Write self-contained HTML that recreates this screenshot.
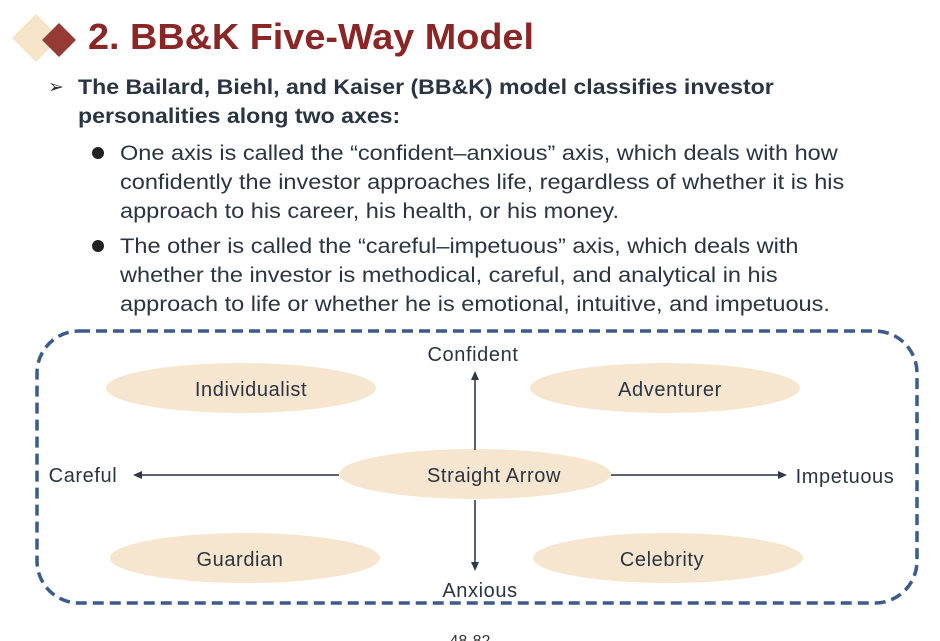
<!DOCTYPE html>
<html><head><meta charset="utf-8"><style>
body{margin:0;width:940px;height:641px;background:#fff;overflow:hidden;position:relative;font-family:"Liberation Sans","Noto Sans CJK SC",sans-serif;}
.t{position:absolute;white-space:nowrap;transform-origin:0 0;}
</style></head><body>
<svg width="940" height="641" style="position:absolute;left:0;top:0">
<rect x="19" y="21" width="34" height="34" fill="#f6e4c8" transform="rotate(45 36 38)"/>
<rect x="47" y="28" width="24" height="24" fill="#963a36" transform="rotate(45 59 40)"/>
<text x="48" y="93" font-size="19" fill="#333">➢</text>
<circle cx="98" cy="153" r="6" fill="#222"/>
<circle cx="98" cy="246" r="6" fill="#222"/>
<rect x="37" y="331" width="880" height="272" rx="42" fill="none" stroke="#3a5b8b" stroke-width="3.5" stroke-dasharray="11 6"/>
<g fill="#f7e6cf">
<ellipse cx="241" cy="388" rx="135" ry="25"/>
<ellipse cx="245" cy="558" rx="135" ry="25"/>
<ellipse cx="665" cy="388" rx="135" ry="25"/>
<ellipse cx="668" cy="558" rx="135" ry="25"/>
<ellipse cx="475" cy="474" rx="136" ry="25"/>
</g>
<g stroke="#5a6470" stroke-width="2">
<line x1="475" y1="450" x2="475" y2="378"/>
<line x1="475" y1="500" x2="475" y2="566"/>
<line x1="339" y1="475" x2="140" y2="475"/>
<line x1="611" y1="475" x2="780" y2="475"/>
</g>
<g fill="#2d3a4a">
<polygon points="475,371 471,380 479,380"/>
<polygon points="475,571 471,562 479,562"/>
<polygon points="133,475 142,471 142,479"/>
<polygon points="787,475 778,471 778,479"/>
</g>
<g font-size="20" fill="#2b3442" font-family="Liberation Sans, sans-serif" text-anchor="middle" letter-spacing="0.6">
<text x="251" y="396">Individualist</text>
<text x="240" y="566">Guardian</text>
<text x="670" y="396">Adventurer</text>
<text x="662" y="566">Celebrity</text>
<text x="494" y="482">Straight Arrow</text>
<text x="473" y="361">Confident</text>
<text x="480" y="597">Anxious</text>
<text x="83" y="482">Careful</text>
<text x="845" y="483">Impetuous</text>
</g>
<text x="470" y="646" font-size="16" fill="#333" text-anchor="middle">48-82</text>
</svg>
<div class="t" style="left:88px;top:16px;font-size:36px;font-weight:bold;color:#8b2626;transform:scaleX(1.05);">2. BB&amp;K Five-Way Model</div>
<div class="t" style="left:78px;top:73px;font-size:21px;font-weight:bold;color:#2b3442;line-height:29px;transform:scaleX(1.1);">The Bailard, Biehl, and Kaiser (BB&amp;K) model classifies investor<br>personalities along two axes:</div>
<div class="t" style="left:120px;top:139px;font-size:21px;color:#2b3442;line-height:29px;transform:scaleX(1.12);">One axis is called the “confident–anxious” axis, which deals with how<br>confidently the investor approaches life, regardless of whether it is his<br>approach to his career, his health, or his money.</div>
<div class="t" style="left:120px;top:232px;font-size:21px;color:#2b3442;line-height:29px;transform:scaleX(1.12);">The other is called the “careful–impetuous” axis, which deals with<br>whether the investor is methodical, careful, and analytical in his<br>approach to life or whether he is emotional, intuitive, and impetuous.</div>
</body></html>
